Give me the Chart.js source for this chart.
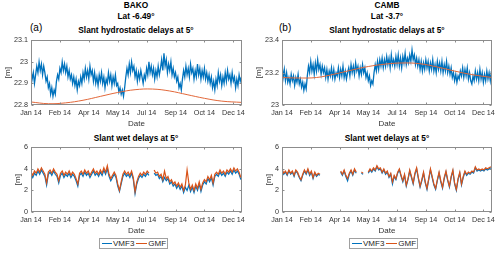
<!DOCTYPE html>
<html>
<head>
<meta charset="utf-8">
<script src="https://cdn.jsdelivr.net/npm/chart.js@4/dist/chart.umd.min.js"></script>
<style>
    body { margin: 0; background: #fff; }
    #wrap { position: relative; width: 500px; height: 254px; overflow: hidden; font-family: "Liberation Sans", Arial, sans-serif; }
    canvas { position: absolute; }
    .t { position: absolute; font-weight: bold; font-size: 8.3px; line-height: 10px; text-align: center; color: #000; white-space: nowrap; }
    .tag { position: absolute; font-size: 10px; line-height: 12px; color: #000; }
    .leg { position: absolute; height: 9px; border: 1px solid #a0a0a0; display: flex; align-items: center; font-size: 8px; color: #262626; padding: 0 1px; background: #fff; }
    .leg span { display: inline-block; height: 1.5px; margin: 0 1px; }
</style>
</head>
<body>
<div id="wrap">
    <div class="t" style="left:36px;width:200px;top:0px;">BAKO</div>
    <div class="t" style="left:36px;width:200px;top:11px;">Lat -6.49°</div>
    <div class="t" style="left:36px;width:200px;top:25px;">Slant hydrostatic delays at 5°</div>
    <div class="tag" style="left:30px;top:22px;">(a)</div>

    <div class="t" style="left:287px;width:200px;top:0px;">CAMB</div>
    <div class="t" style="left:287px;width:200px;top:11px;">Lat -3.7°</div>
    <div class="t" style="left:287px;width:200px;top:25px;">Slant hydrostatic delays at 5°</div>
    <div class="tag" style="left:279px;top:22px;">(b)</div>

    <div class="t" style="left:36px;width:200px;top:133px;">Slant wet delays at 5°</div>
    <div class="t" style="left:287px;width:200px;top:133px;">Slant wet delays at 5°</div>

    <canvas id="c1" width="250" height="97" style="left:0;top:33px;"></canvas>
    <canvas id="c2" width="249" height="97" style="left:251px;top:33px;"></canvas>
    <canvas id="c3" width="250" height="97" style="left:0;top:140px;"></canvas>
    <canvas id="c4" width="249" height="97" style="left:251px;top:140px;"></canvas>

    <div class="leg" style="left:99px;top:238px;"><span style="width:10px;background:#0072BD"></span>VMF3<span style="width:11px;background:#D95319;margin-left:2px"></span>GMF</div>
    <div class="leg" style="left:349px;top:238px;"><span style="width:10px;background:#0072BD"></span>VMF3<span style="width:11px;background:#D95319;margin-left:2px"></span>GMF</div>
</div>
<script>
// x axis: day of year 2014
const tickDays = [0, 50, 100, 150, 200, 250, 300, 350];
const tickLabels = ['Jan 14', 'Feb 14', 'Apr 14', 'May 14', 'Jul 14', 'Sep 14', 'Oct 14', 'Dec 14'];

// hydrostatic VMF3 read every 2 days, wet delays every 3 days
const days2 = Array.from({ length: 183 }, (_, i) => i * 2);
const days3 = Array.from({ length: 122 }, (_, i) => i * 3);
// GMF hydrostatic is smooth, read roughly monthly
const gmfDays = [0, 30, 60, 90, 120, 150, 180, 210, 240, 270, 300, 330, 365];

const bakoHydroVmf3 = [
    22.96, 22.92, 22.95, 22.90, 22.94, 22.98, 22.95, 23.00, 22.96, 22.99,
    22.94, 22.98, 22.95, 22.91, 22.93, 22.88, 22.90, 22.85, 22.88, 22.84,
    22.87, 22.85, 22.91, 22.94, 22.92, 22.97, 22.95, 23.00, 22.96, 22.99,
    22.95, 22.98, 22.93, 22.96, 22.92, 22.94, 22.90, 22.93, 22.89, 22.92,
    22.87, 22.91, 22.89, 22.93, 22.90, 22.95, 22.92, 22.97, 22.93, 22.96,
    22.92, 22.98, 22.94, 22.96, 22.91, 22.95, 22.90, 22.93, 22.89, 22.94,
    22.91, 22.95, 22.90, 22.93, 22.88, 22.92, 22.90, 22.95, 22.91, 22.94,
    22.89, 22.93, 22.90, 22.94, 22.89, 22.90, 22.86, 22.88, 22.85, 22.87,
    22.84, 22.88, 22.93, 22.97, 22.94, 22.99, 22.95, 23.00, 22.96, 22.98,
    22.93, 22.96, 22.91, 22.95, 22.92, 22.96, 22.93, 22.90, 22.94, 22.92,
    22.97, 22.94, 23.00, 22.95, 22.98, 22.94, 22.97, 22.92, 22.96, 22.93,
    22.98, 22.94, 22.97, 23.01, 22.96, 23.04, 22.98, 23.01, 22.95, 22.99,
    22.96, 23.00, 22.94, 22.97, 22.93, 22.95, 22.91, 22.93, 22.88, 22.90,
    22.87, 22.92, 22.96, 22.93, 22.98, 22.94, 22.97, 22.93, 22.99, 22.95,
    22.97, 22.92, 22.96, 22.93, 22.99, 22.94, 22.97, 22.92, 22.96, 22.93,
    22.97, 22.92, 22.95, 22.91, 22.94, 22.90, 22.93, 22.88, 22.91, 22.87,
    22.92, 22.89, 22.95, 22.91, 22.94, 22.89, 22.93, 22.90, 22.95, 22.91,
    22.96, 22.92, 22.94, 22.90, 22.95, 22.91, 22.93, 22.88, 22.92, 22.89,
    22.94, 22.91, 22.93
];
const bakoHydroGmf = [22.814, 22.806, 22.810, 22.822, 22.840, 22.858, 22.871, 22.874, 22.865, 22.848, 22.831, 22.818, 22.812];

const cambHydroVmf3 = [
    23.25, 23.17, 23.22, 23.15, 23.20, 23.14, 23.17, 23.13, 23.19, 23.15,
    23.18, 23.12, 23.17, 23.14, 23.19, 23.13, 23.16, 23.11, 23.14, 23.09,
    23.13, 23.10, 23.18, 23.24, 23.20, 23.27, 23.21, 23.25, 23.19, 23.26,
    23.21, 23.28, 23.22, 23.25, 23.19, 23.24, 23.20, 23.23, 23.17, 23.22,
    23.16, 23.21, 23.18, 23.23, 23.17, 23.22, 23.16, 23.20, 23.18, 23.23,
    23.17, 23.22, 23.18, 23.24, 23.17, 23.21, 23.16, 23.20, 23.23, 23.18,
    23.25, 23.20, 23.24, 23.19, 23.26, 23.21, 23.24, 23.18, 23.23, 23.19,
    23.25, 23.20, 23.23, 23.17, 23.20, 23.15, 23.18, 23.12, 23.15, 23.13,
    23.20, 23.25, 23.21, 23.27, 23.22, 23.28, 23.24, 23.29, 23.23, 23.28,
    23.24, 23.30, 23.25, 23.29, 23.23, 23.31, 23.25, 23.28, 23.24, 23.30,
    23.25, 23.31, 23.24, 23.29, 23.23, 23.30, 23.26, 23.32, 23.25, 23.29,
    23.26, 23.31, 23.27, 23.34, 23.28, 23.31, 23.25, 23.29, 23.24, 23.28,
    23.22, 23.27, 23.21, 23.26, 23.22, 23.28, 23.23, 23.27, 23.21, 23.26,
    23.22, 23.28, 23.21, 23.25, 23.20, 23.27, 23.22, 23.26, 23.21, 23.27,
    23.20, 23.25, 23.21, 23.27, 23.20, 23.24, 23.19, 23.23, 23.17, 23.20,
    23.15, 23.19, 23.14, 23.18, 23.16, 23.21, 23.18, 23.23, 23.17, 23.22,
    23.18, 23.23, 23.16, 23.20, 23.15, 23.13, 23.18, 23.15, 23.21, 23.16,
    23.20, 23.15, 23.22, 23.16, 23.20, 23.14, 23.19, 23.15, 23.21, 23.16,
    23.20, 23.15, 23.21
];
const cambHydroGmf = [23.170, 23.167, 23.170, 23.190, 23.215, 23.238, 23.253, 23.260, 23.255, 23.235, 23.210, 23.188, 23.170];

const bakoWetVmf3 = [
    3.5, 3.2, 3.6, 3.4, 3.8, 3.5, 3.9, 3.6, 3.3, 2.5,
    3.5, 3.7, 3.4, 3.8, 3.5, 3.3, 2.7, 3.4, 3.6, 3.2,
    3.5, 3.3, 3.6, 3.2, 3.5, 3.3, 2.9, 2.4, 3.4, 3.6,
    3.3, 3.7, 3.4, 3.6, 3.2, 3.5, 3.8, 3.4, 3.6, 3.3,
    3.7, 3.4, 3.9, 3.5, 4.0, 3.3, 2.9, 3.2, 3.5, 3.2,
    2.4, 1.9, 2.6, 3.3, 3.6, 3.3, 3.5, 3.2, 3.6, 3.0,
    1.7, 2.6, 3.1, 3.4, 3.2, 3.5, 3.3, 3.6, 3.4, null,
    null, 3.6, 3.4, 3.5, 3.1, 3.3, 2.8, 3.2, 2.9, 3.1,
    2.6, 2.8, 2.4, 2.6, 2.2, 2.5, 2.1, 2.4, 1.8, 2.3,
    2.0, 2.5, 1.9, 2.3, 1.8, 2.4, 2.0, 2.6, 1.9, 2.5,
    2.8, 2.6, 3.1, 2.8, 3.2, 2.5, 3.3, 3.5, 3.3, 3.7,
    3.4, 3.6, 3.3, 3.7, 3.5, 3.8, 3.5, 3.9, 3.6, 3.8,
    3.5, 3.0
];
const bakoWetGmf = [
    3.7, 3.4, 3.8, 3.6, 4.0, 3.7, 4.1, 3.8, 3.5, 2.7,
    3.7, 3.9, 3.6, 4.0, 3.7, 3.5, 2.9, 3.6, 3.8, 3.4,
    3.7, 3.5, 3.8, 3.4, 3.7, 3.5, 3.1, 2.6, 3.6, 3.8,
    3.5, 3.9, 3.6, 3.8, 3.4, 3.7, 4.0, 3.6, 3.8, 3.5,
    3.9, 3.6, 4.1, 3.7, 4.3, 3.5, 3.1, 3.4, 3.7, 3.4,
    2.6, 2.0, 2.8, 3.5, 3.8, 3.5, 3.7, 3.4, 3.8, 3.2,
    1.9, 2.8, 3.3, 3.6, 3.4, 3.7, 3.5, 3.8, 3.6, null,
    null, 3.9, 3.6, 3.7, 3.3, 3.5, 3.0, 3.8, 3.1, 3.3,
    2.8, 3.0, 2.6, 2.8, 2.4, 2.7, 2.3, 2.6, 2.0, 2.5,
    3.9, 2.7, 2.1, 2.5, 2.0, 2.6, 2.2, 2.8, 2.1, 2.7,
    3.0, 2.8, 3.3, 3.0, 3.4, 2.7, 3.5, 3.7, 3.5, 3.9,
    3.6, 3.8, 3.5, 3.9, 3.7, 4.0, 3.7, 4.1, 3.8, 4.0,
    3.7, 3.2
];

const cambWetVmf3 = [
    3.9, 3.5, 3.7, 3.4, 3.8, 3.5, 3.7, 3.3, 3.8, 3.6,
    3.2, 2.9, 3.4, 3.8, 3.5, 3.9, 3.4, 3.7, 3.1, 3.6,
    3.3, 3.5, 3.4, null, null, null, null, null, null, null,
    null, null, null, null, 3.7, 3.4, 3.8, 3.3, 2.9, 3.5,
    3.8, 3.4, 3.9, 3.6, null, null, 3.6, 3.5, null, null,
    3.6, 3.9, 3.7, 4.0, 3.8, 4.2, 3.9, 4.0, 3.6, 3.9,
    3.5, 3.7, 3.2, 3.5, 2.6, 3.3, 3.0, 3.6, 3.9, 3.3,
    2.8, 3.4, 2.4, 3.0, 3.8, 3.2, 2.6, 3.5, 4.0, 3.1,
    2.3, 2.9, 3.6, 2.7, 2.1, 3.0, 3.9, 3.2, 2.5, 2.1,
    2.9, 3.6, 2.8, 2.2, 3.1, 3.7, 2.9, 2.3, 3.2, 3.8,
    2.6, 2.0, 3.0, 3.6, 2.5, 3.2, 3.7, 3.4, 3.6, 3.5,
    3.7, 3.6, 4.1, 3.8, 3.9, 3.8, 3.9, 3.8, 4.0, 3.9,
    4.0, 4.1
];
const cambWetGmf = [
    4.0, 3.6, 3.8, 3.5, 3.9, 3.6, 3.8, 3.4, 3.9, 3.7,
    3.3, 3.0, 3.5, 3.9, 3.6, 4.0, 3.5, 3.8, 3.2, 3.7,
    3.4, 3.6, 3.5, null, null, null, null, null, null, null,
    null, null, null, null, 3.8, 3.5, 3.9, 3.4, 3.1, 3.6,
    3.9, 3.5, 4.0, 3.7, null, null, 3.7, 3.6, null, null,
    3.7, 4.0, 3.8, 4.1, 3.9, 4.3, 4.0, 4.1, 3.7, 4.0,
    3.6, 3.8, 3.3, 3.6, 2.8, 3.4, 3.1, 3.7, 4.0, 3.4,
    2.9, 3.5, 2.5, 3.1, 3.9, 3.3, 2.7, 3.6, 4.1, 3.2,
    2.4, 3.0, 3.7, 2.8, 2.2, 3.1, 4.0, 3.3, 2.6, 2.2,
    3.0, 3.7, 2.9, 2.3, 3.2, 3.8, 3.0, 2.4, 3.3, 3.9,
    2.7, 2.1, 3.1, 3.7, 2.6, 3.3, 3.8, 3.5, 3.7, 3.6,
    3.8, 3.7, 4.2, 3.9, 4.0, 3.9, 4.0, 3.9, 4.1, 4.0,
    4.1, 4.2
];

const bakoHydroTicks = [22.8, 22.9, 23, 23.1];
const cambHydroTicks = [23, 23.2, 23.4];
const wetTicks = [0, 2, 4, 6];

const BLUE = '#0072BD';
const ORANGE = '#D95319';
const FONT = '"Liberation Sans", Arial, sans-serif';

function pts(xs, ys) {
    return xs.map((x, i) => ({ x, y: ys[i] }));
}

// MATLAB-like box with inward ticks
const boxPlugin = {
    id: 'box',
    afterDatasetsDraw(chart) {
        const { ctx, chartArea: a, scales: { x, y } } = chart;
        ctx.save();
        ctx.strokeStyle = '#8c8c8c';
        ctx.lineWidth = 1;
        const l = Math.round(a.left) + 0.5, r = Math.round(a.right) - 0.5;
        const t = Math.round(a.top) + 0.5, b = Math.round(a.bottom) - 0.5;
        ctx.strokeRect(l, t, r - l, b - t);
        ctx.beginPath();
        x.ticks.forEach(tk => {
            const px = Math.round(x.getPixelForValue(tk.value)) + 0.5;
            ctx.moveTo(px, b); ctx.lineTo(px, b - 2);
            ctx.moveTo(px, t); ctx.lineTo(px, t + 2);
        });
        y.ticks.forEach(tk => {
            const py = Math.round(y.getPixelForValue(tk.value)) + 0.5;
            ctx.moveTo(l, py); ctx.lineTo(l + 2, py);
            ctx.moveTo(r, py); ctx.lineTo(r - 2, py);
        });
        ctx.stroke();
        ctx.restore();
    }
};

function makePanel(id, yMin, yMax, yTicks, datasets, yTitlePad) {
    const ctx = document.getElementById(id).getContext('2d');
    return new Chart(ctx, {
        type: 'line',
        data: { datasets },
        plugins: [boxPlugin],
        options: {
            responsive: false,
            animation: false,
            events: [],
            parsing: false,
            spanGaps: false,
            layout: { padding: { top: 5, right: 8, left: 0, bottom: 0 } },
            plugins: { legend: { display: false }, tooltip: { enabled: false } },
            elements: { point: { radius: 0 }, line: { borderWidth: 1, tension: 0 } },
            scales: {
                x: {
                    type: 'linear', min: 0, max: 365,
                    afterBuildTicks: s => { s.ticks = tickDays.map(v => ({ value: v })); },
                    afterFit: s => { s.height = 25; },
                    ticks: {
                        callback: v => tickLabels[tickDays.indexOf(v)],
                        font: { size: 7.2, family: FONT }, color: '#333',
                        padding: 4, maxRotation: 0, autoSkip: false
                    },
                    grid: { display: false, drawTicks: false },
                    border: { display: false },
                    title: { display: true, text: 'Date', font: { size: 8, family: FONT }, color: '#333', padding: { top: 0, bottom: 1 } }
                },
                y: {
                    min: yMin, max: yMax,
                    afterBuildTicks: s => { s.ticks = yTicks.map(v => ({ value: v })); },
                    afterFit: s => { s.width = 31; },
                    ticks: { callback: v => String(v), font: { size: 7.2, family: FONT }, color: '#333', padding: 3 },
                    grid: { display: false, drawTicks: false },
                    border: { display: false },
                    title: { display: true, text: '[m]', font: { size: 8, family: FONT }, color: '#333', padding: { top: yTitlePad, bottom: 0 } }
                }
            }
        }
    });
}

// order 0 is drawn on top: GMF over VMF3
makePanel('c1', 22.8, 23.1, bakoHydroTicks, [
    { data: pts(days2, bakoHydroVmf3), borderColor: BLUE, borderWidth: 1.3, order: 1 },
    { data: pts(gmfDays, bakoHydroGmf), borderColor: '#E2683A', borderWidth: 1, tension: 0.4, order: 0 }
], 3);

makePanel('c2', 23, 23.4, cambHydroTicks, [
    { data: pts(days2, cambHydroVmf3), borderColor: BLUE, borderWidth: 1.3, order: 1 },
    { data: pts(gmfDays, cambHydroGmf), borderColor: '#E2683A', borderWidth: 1, tension: 0.4, order: 0 }
], 3);

makePanel('c3', 0, 6, wetTicks, [
    { data: pts(days3, bakoWetVmf3), borderColor: BLUE, borderWidth: 1.2, order: 1 },
    { data: pts(days3, bakoWetGmf), borderColor: ORANGE, borderWidth: 1.2, order: 0 }
], 13);

makePanel('c4', 0, 6, wetTicks, [
    { data: pts(days3, cambWetVmf3), borderColor: BLUE, borderWidth: 1.2, order: 1 },
    { data: pts(days3, cambWetGmf), borderColor: ORANGE, borderWidth: 1.2, order: 0 }
], 13);
</script>
</body>
</html>
